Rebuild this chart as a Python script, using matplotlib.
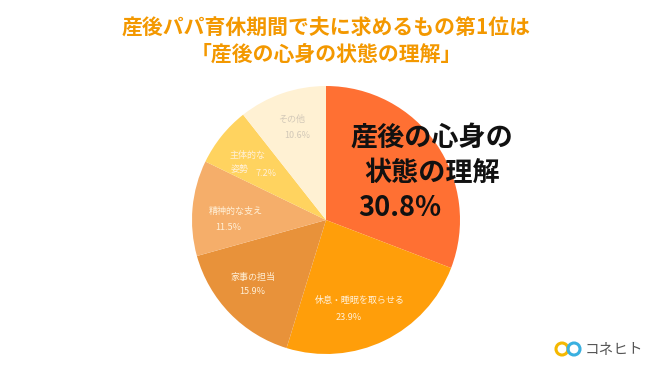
import matplotlib
matplotlib.use("Agg")
import matplotlib.pyplot as plt
from matplotlib.patches import Circle

plt.rcParams['font.family'] = ['Noto Sans CJK JP', 'DejaVu Sans']

categories = ['産後の心身の状態の理解', '休息・睡眠を取らせる', '家事の担当', '精神的な支え', '主体的な姿勢', 'その他']
values = [30.8, 23.9, 15.9, 11.5, 7.2, 10.6]
colors = ['#FF7033', '#FF9E0A', '#E8923A', '#F5AE6A', '#FFD35F', '#FFF1D3']
title_lines = ['産後パパ育休期間で夫に求めるもの第1位は', '「産後の心身の状態の理解」']

W, H = 650, 366
fig = plt.figure(figsize=(W / 100, H / 100), dpi=100)
ax = fig.add_axes([0, 0, 1, 1])

def py(y):
    return H - y

cx, cy, r = 326, 220, 134
ax.pie(values, colors=colors, startangle=90, counterclock=False,
       center=(cx, py(cy)), radius=r, frame=True,
       wedgeprops=dict(linewidth=0))
ax.set_xlim(0, W)
ax.set_ylim(0, H)
ax.set_aspect('equal')
ax.axis('off')

# title
ax.text(326, py(28), title_lines[0], ha='center', va='center', fontsize=15,
        fontweight='bold', color='#F39800')
ax.text(326, py(54), title_lines[1], ha='center', va='center', fontsize=15,
        fontweight='bold', color='#F39800')

# highlight label
big = 19.5
ax.text(432, py(138), '産後の心身の', ha='center', va='center', fontsize=big, fontweight='bold', color='#111111')
ax.text(432, py(173), '状態の理解', ha='center', va='center', fontsize=big, fontweight='bold', color='#111111')
ax.text(400, py(208), f'{values[0]}%', ha='center', va='center', fontsize=big, fontweight='bold', color='#111111')

lab = '#FFF0D8'
fs = 6.5
ax.text(360, py(300), categories[1], ha='center', va='center', fontsize=fs, color=lab)
ax.text(349, py(318), f'{values[1]}%', ha='center', va='center', fontsize=fs, color=lab)
ax.text(253, py(277), categories[2], ha='center', va='center', fontsize=fs, color=lab)
ax.text(252, py(292), f'{values[2]}%', ha='center', va='center', fontsize=fs, color=lab)
ax.text(236, py(211), categories[3], ha='center', va='center', fontsize=fs, color=lab)
ax.text(228, py(227), f'{values[3]}%', ha='center', va='center', fontsize=fs, color=lab)
ax.text(248, py(155), '主体的な', ha='center', va='center', fontsize=fs, color=lab)
ax.text(240, py(169), '姿勢', ha='center', va='center', fontsize=fs, color=lab)
ax.text(266, py(173), f'{values[4]}%', ha='center', va='center', fontsize=fs, color=lab)
ax.text(292, py(119), categories[5], ha='center', va='center', fontsize=fs, color='#D2C8B8')
ax.text(297, py(136), f'{values[5]}%', ha='center', va='center', fontsize=fs, color='#D2C8B8')

# logo
ax.add_patch(Circle((562, py(349)), 6, fill=False, lw=2.2, ec='#F5B800'))
ax.add_patch(Circle((574, py(349)), 6, fill=False, lw=2.2, ec='#3AB0E0'))
ax.text(585, py(349), 'コネヒト', ha='left', va='center', fontsize=10.5, color='#555555')

fig.savefig('out.png', dpi=100)
